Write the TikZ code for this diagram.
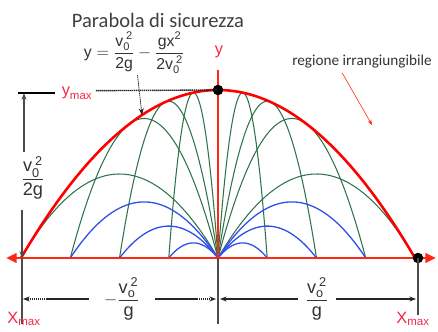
\documentclass[tikz,border=0pt]{standalone}
\usepackage{amsmath}
\usepackage{fontspec}
\setmainfont{Liberation Sans}
\newfontfamily\calfont{Carlito}
\usetikzlibrary{arrows.meta}
\definecolor{figR}{RGB}{255,40,20}
\definecolor{figG}{RGB}{46,115,75}
\definecolor{figB}{RGB}{45,80,235}
\definecolor{figL}{RGB}{245,40,70}
\newcommand{\tx}[1]{\text{#1}}
\newcommand{\vsq}[1]{\tx{v}_\tx{#1}^{\hspace{2.5pt}\tx{2}}}
\tikzset{
  traj/.style={line width=0.9pt},
  axisline/.style={figR,line width=2.4pt,{Triangle[length=9pt,width=8pt]}-{Triangle[length=9pt,width=8pt]}},
  dimline/.style={black!70,line width=1pt},
  dotline/.style={black!85,line width=1.2pt,dash pattern=on 1.2pt off 0.5pt},
  lbl/.style={font=\fontsize{14}{16}\selectfont,inner sep=1pt},
  frc/.style={font=\fontsize{15.5}{18}\selectfont,inner sep=1pt,text=black!80},
}

\begin{document}
\begin{tikzpicture}[x=0.03cm,y=0.03cm,>={Stealth[length=2mm]}]
\useasboundingbox (0,0) rectangle (438,332);
\coordinate (O) at (218,74); \coordinate (xL) at (22,74); \coordinate (xR) at (418,74);
\coordinate (yM) at (218,242); \coordinate (envP) at (142,217);
\coordinate (xa) at (6,74); \coordinate (xb) at (436,74); \coordinate (ya) at (218,262);
\begin{scope}[shift={(O)},xscale=197,yscale=336]
\foreach \a in {45,65.705,75,82.76}{
  \pgfmathsetmacro\r{sin(2*\a)}
  \draw[traj,figG] plot[domain=0:\r,samples=50] (\x,{\x*tan(\a)-\x*\x/(2*cos(\a)^2)});
  \draw[traj,figG] plot[domain=0:\r,samples=50] (-\x,{\x*tan(\a)-\x*\x/(2*cos(\a)^2)});
}
\foreach \r/\h in {0.25/0.045,0.5/0.095,0.75/0.167}{
  \draw[traj,figB,line width=1.1pt] plot[domain=0:\r,samples=40] (\x,{4*\h*\x*(\r-\x)/(\r*\r)});
  \draw[traj,figB,line width=1.1pt] plot[domain=0:\r,samples=40] (-\x,{4*\h*\x*(\r-\x)/(\r*\r)});
}
\draw[red,line width=2.2pt] plot[domain=-1:1,samples=80] (\x,{0.5-0.5*\x*\x});
\end{scope}
\draw[axisline] (xa) -- (xb);
\draw[axisline,{-}] (O) -- (ya);
\fill (yM) circle (4.5pt); \fill (xR) circle (4.5pt);
\node[lbl,text=figL] (ylab) at (219,280) {y};
% labels
\node[font=\calfont\fontsize{17.5}{20}\selectfont,text=black!75] (title) at (158,312) {Parabola di sicurezza};
\node[font=\fontsize{13.5}{15}\selectfont,text=black!80,inner sep=1pt] (form) at (134,279)
  {$\tx{y}=\dfrac{\vsq{0}}{\tx{2g}}-\dfrac{\tx{gx}^\tx{2}}{\tx{2}\vsq{0}}$};
\draw[dotline,line width=0.6pt,->] ([xshift=3pt]form.south) -- (envP);
\node[font=\calfont\fontsize{13}{15}\selectfont,text=black!80] (reg) at (362,270) {regione irrangiungibile};
\draw[figR,line width=0.5pt,-{Stealth[length=1.6mm]}] ([xshift=-17pt]reg.south) -- (372,207);
% y max
\node[lbl,text=figL] (ymaxl) at (77,239) {$\tx{y}_\tx{max}$};
\coordinate (hb1) at (18,239); \coordinate (hb2) at (55,239);
\draw[line width=1.6pt] (hb1) -- (hb2);
\draw[dimline,->] (24,180) -- (24,239);
\draw[dotline] ([xshift=2pt,yshift=2pt]ymaxl.east) -- (yM);
\node[frc] (hfrac) at (33,154) {$\dfrac{\vsq{0}}{\tx{2g}}$};
\draw[dimline,->] (22,122) -- (xL);
\draw[dimline] (xL) -- (22,8);
\draw[dimline] (O) -- (218,8);
\draw[dimline] (xR) -- (418,17);
% ranges
\coordinate (bL) at (23,33); \coordinate (bC1) at (216,33); \coordinate (bC2) at (220,33); \coordinate (bR) at (416,33);
\node[frc] (dL) at (122,33) {$-\dfrac{\vsq{o}}{\tx{g}}$};
\node[frc] (dR) at (317,33) {$\dfrac{\vsq{o}}{\tx{g}}$};
\draw[dotline,->] ([xshift=-12pt]dL.west) -- (bL);
\draw[dotline,->] ([xshift=12pt]dL.east) -- (bC1);
\draw[dotline,->] ([xshift=-5pt]dR.west) -- (bC2);
\draw[dotline,->] ([xshift=5pt]dR.east) -- (bR);
\node[lbl,text=figL] (xmL) at (24,13) {$\tx{X}_\tx{max}$};
\node[lbl,text=figL] (xmR) at (413,13) {$\tx{X}_\tx{max}$};
\end{tikzpicture}
\end{document}
